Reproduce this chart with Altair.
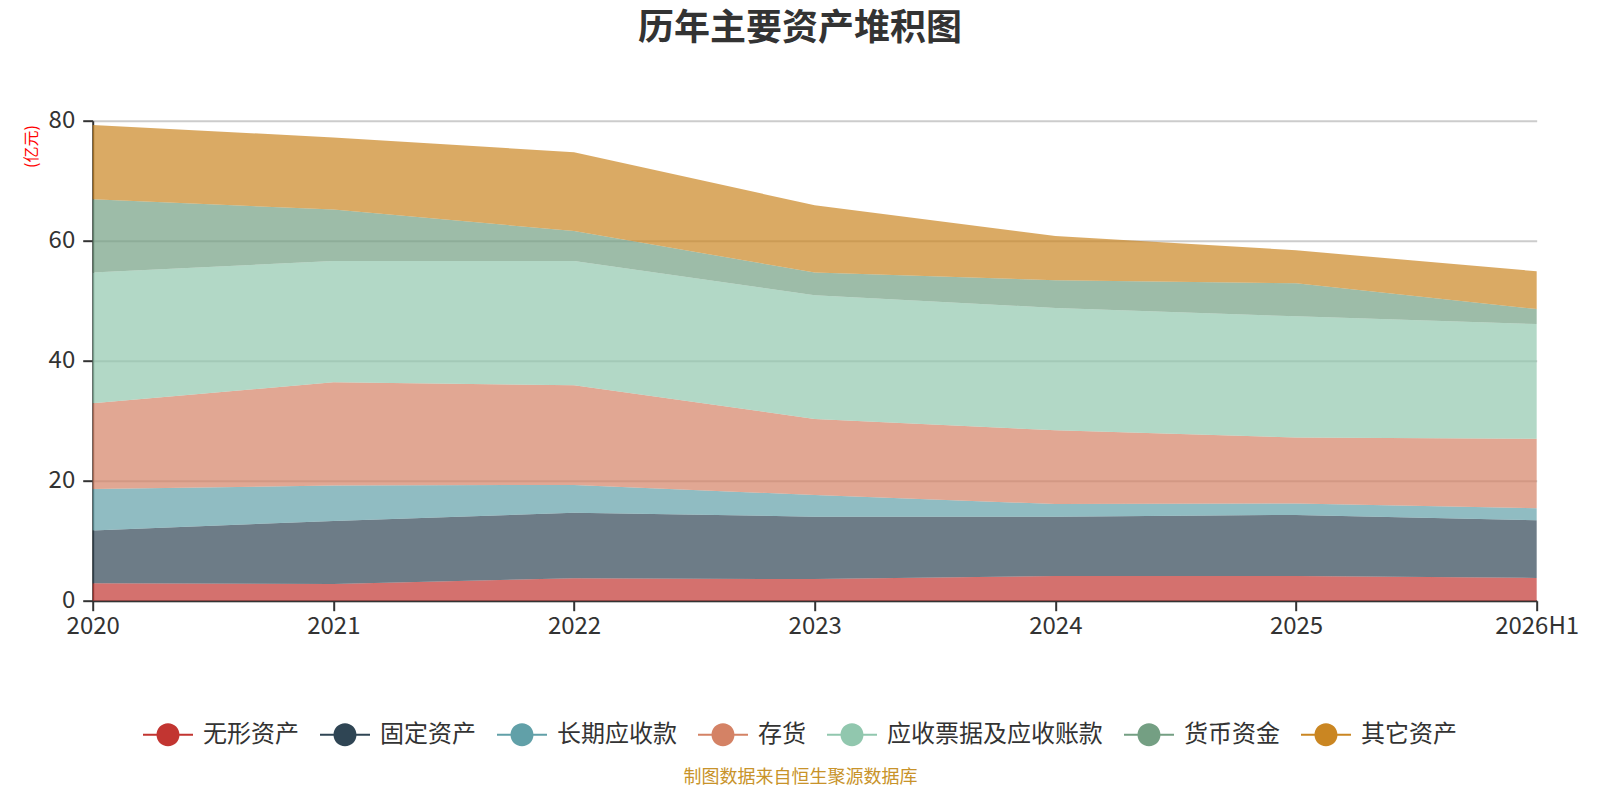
import altair as alt
import pandas as pd

years = ["2020", "2021", "2022", "2023", "2024", "2025", "2026H1"]
series = ["无形资产", "固定资产", "长期应收款", "存货", "应收票据及应收账款", "货币资金", "其它资产"]
colors = ["#c23531", "#2f4554", "#61a0a8", "#d48265", "#91c7ae", "#749f83", "#ca8622"]

intangible = [2.9, 2.8, 3.75, 3.6, 4.1, 4.1, 3.8]
fixed_assets = [8.8, 10.5, 10.9, 10.4, 9.9, 10.2, 9.6]
long_receivable = [6.9, 5.9, 4.65, 3.6, 2.1, 1.9, 2.0]
inventory = [14.3, 17.2, 16.6, 12.7, 12.3, 11.0, 11.6]
receivables = [21.8, 20.2, 20.7, 20.6, 20.4, 20.2, 19.1]
cash = [12.2, 8.6, 5.0, 3.8, 4.6, 5.5, 2.5]
other = [12.4, 12.0, 13.15, 11.2, 7.4, 5.5, 6.3]

values = [intangible, fixed_assets, long_receivable, inventory, receivables, cash, other]

rows = []
for i, (name, vals) in enumerate(zip(series, values)):
    for y, v in zip(years, vals):
        rows.append({"year": y, "series": name, "value": v, "idx": i})
df = pd.DataFrame(rows)

FONT = "Noto Sans CJK SC"
legend_symbol = (
    "M-1,-0.04 L-0.44,-0.04 L-0.44,0.04 L-1,0.04 Z "
    "M0.44,-0.04 L1,-0.04 L1,0.04 L0.44,0.04 Z "
    "M0.46,0 A0.46,0.46 0 1,1 -0.46,0 A0.46,0.46 0 1,1 0.46,0 Z"
)

chart = (
    alt.Chart(df)
    .mark_area(interpolate="linear", opacity=0.7)
    .encode(
        x=alt.X(
            "year:N",
            sort=years,
            scale=alt.Scale(type="point", padding=0),
            axis=alt.Axis(
                title="制图数据来自恒生聚源数据库",
                titleX=707.3,
                titleY=176.5,
                titleAlign="center",
                titleBaseline="middle",
                titleFontSize=18,
                titleFontWeight="normal",
                titleColor="#c8932a",
                titleFont=FONT,
                labelAngle=0,
                labelFontSize=24,
                labelColor="#333333",
                labelFont=FONT,
                labelPadding=4,
                tickSize=10,
                tickWidth=2,
                tickColor="#333333",
                domainColor="#333333",
                domainWidth=2,
                grid=False,
            ),
        ),
        y=alt.Y(
            "value:Q",
            stack="zero",
            scale=alt.Scale(domain=[0, 80], nice=False),
            axis=alt.Axis(
                title="(亿元)",
                titleX=-61.7,
                titleY=25.3,
                titleAlign="center",
                titleBaseline="middle",
                titleFontSize=16,
                titleFontWeight="normal",
                titleColor="#ff0000",
                titleFont=FONT,
                values=[0, 20, 40, 60, 80],
                labelFontSize=24,
                labelColor="#333333",
                labelFont=FONT,
                labelPadding=8,
                tickSize=10,
                tickWidth=2,
                tickColor="#333333",
                domainColor="#333333",
                domainWidth=2,
                gridColor="#cccccc",
                gridWidth=2,
            ),
        ),
        color=alt.Color(
            "series:N",
            scale=alt.Scale(domain=series, range=colors),
            legend=alt.Legend(
                title=None,
                orient="none",
                direction="horizontal",
                legendX=50.3,
                legendY=589,
                symbolType=legend_symbol,
                symbolSize=2500,
                symbolOpacity=1,
                symbolStrokeWidth=0,
                labelFontSize=24,
                labelColor="#333333",
                labelFont=FONT,
                labelOffset=10,
                labelLimit=400,
                columnPadding=21,
                padding=0,
            ),
        ),
        order=alt.Order("idx:Q", sort="ascending"),
    )
    .properties(
        width=1444,
        height=480,
        background="white",
        autosize=alt.AutoSizeParams(type="none"),
        padding={"left": 84.7, "top": 112.7, "right": 50, "bottom": 187},
        title=alt.TitleParams(
            text="历年主要资产堆积图",
            fontSize=36,
            fontWeight="bold",
            color="#333333",
            font=FONT,
            anchor="middle",
            dx=-14.7,
            offset=61,
        ),
    )
    .configure_view(stroke="transparent", strokeWidth=0)
)

chart.save("out.html", embed_options={"renderer": "svg", "actions": False})
